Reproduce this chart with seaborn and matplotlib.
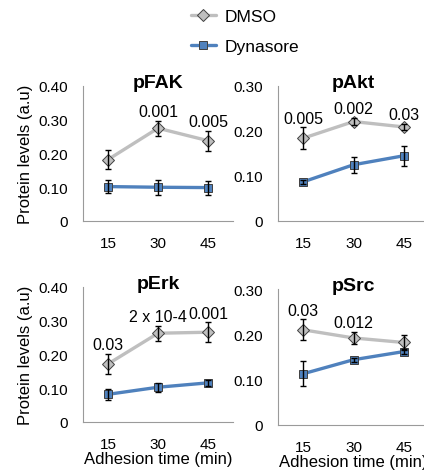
import numpy as np
import pandas as pd
import matplotlib
matplotlib.use("Agg")
import matplotlib.pyplot as plt
from matplotlib.lines import Line2D
import seaborn as sns

# ---- data ----
times = [15, 30, 45]
groups = ["DMSO", "Dynasore"]

panels = ["pFAK", "pAkt", "pErk", "pSrc"]
ymax = {"pFAK": 0.40, "pAkt": 0.30, "pErk": 0.40, "pSrc": 0.30}

dmso_mean = {
    "pFAK": [0.182, 0.275, 0.238],
    "pAkt": [0.184, 0.221, 0.209],
    "pErk": [0.172, 0.263, 0.266],
    "pSrc": [0.210, 0.192, 0.182],
}
dmso_err = {
    "pFAK": [0.029, 0.022, 0.030],
    "pAkt": [0.024, 0.008, 0.007],
    "pErk": [0.030, 0.022, 0.030],
    "pSrc": [0.023, 0.014, 0.017],
}
dyn_mean = {
    "pFAK": [0.102, 0.100, 0.099],
    "pAkt": [0.087, 0.125, 0.145],
    "pErk": [0.082, 0.103, 0.116],
    "pSrc": [0.113, 0.144, 0.162],
}
dyn_err = {
    "pFAK": [0.020, 0.022, 0.021],
    "pAkt": [0.005, 0.018, 0.022],
    "pErk": [0.016, 0.013, 0.009],
    "pSrc": [0.028, 0.004, 0.006],
}
# p-values written above DMSO points (None = no label)
pvals = {
    "pFAK": [None, "0.001", "0.005"],
    "pAkt": ["0.005", "0.002", "0.03"],
    "pErk": ["0.03", "2 x 10-4", "0.001"],
    "pSrc": ["0.03", "0.012", None],
}

# ---- style ----
sns.set_style("white")
plt.rcParams["font.family"] = ["Liberation Sans", "DejaVu Sans"]
plt.rcParams["font.size"] = 11
plt.rcParams["text.color"] = "black"
plt.rcParams["axes.labelcolor"] = "black"
plt.rcParams["xtick.color"] = "black"
plt.rcParams["ytick.color"] = "black"

colors = {"DMSO": "#BFBFBF", "Dynasore": "#4F81BD"}
markers = {"DMSO": "D", "Dynasore": "s"}
axis_grey = "#9A9A9A"

W, H = 424, 477
fig = plt.figure(figsize=(W / 100, H / 100), dpi=100)

# axes boxes in pixels: left, top(y of ymax), width, bottom(y of 0)
boxes = {
    "pFAK": (83, 87, 150, 222),
    "pAkt": (278, 87, 151, 222),
    "pErk": (83, 288, 150, 423),
    "pSrc": (278, 290, 151, 426),
}

for name in panels:
    l, t, w, b = boxes[name]
    ax = fig.add_axes([l / W, (H - b) / H, w / W, (b - t) / H])

    df = pd.DataFrame({
        "time": times * 2,
        "level": dmso_mean[name] + dyn_mean[name],
        "group": ["DMSO"] * 3 + ["Dynasore"] * 3,
    })
    sns.lineplot(data=df, x="time", y="level", hue="group", style="group",
                 hue_order=groups, palette=colors, markers=markers, dashes=False,
                 linewidth=2.4, markersize=6, markeredgecolor="#404040",
                 markeredgewidth=0.7, legend=False, ax=ax, zorder=3)
    ax.errorbar(times, dmso_mean[name], yerr=dmso_err[name], fmt="none",
                ecolor="black", elinewidth=1, capsize=2.5, capthick=1, zorder=4)
    ax.errorbar(times, dyn_mean[name], yerr=dyn_err[name], fmt="none",
                ecolor="black", elinewidth=1, capsize=2.5, capthick=1, zorder=4)

    for x, m, e, p in zip(times, dmso_mean[name], dmso_err[name], pvals[name]):
        if p:
            ax.annotate(p, (x, m + e), xytext=(0, 6.5), textcoords="offset points",
                        ha="center", va="center", fontsize=11.5)

    ax.set_xlim(7.5, 52.5)
    ax.set_ylim(0, ymax[name])
    ax.set_yticks(np.arange(0, ymax[name] + 0.001, 0.10))
    ax.set_yticklabels(["0" if v == 0 else f"{v:.2f}" for v in ax.get_yticks()])
    ax.set_xticks(times)
    ax.set_xticklabels([str(v) for v in times])
    ax.set_xticks([22.5, 37.5, 52.5], minor=True)
    ax.tick_params(axis="x", which="major", length=0, pad=10.5, labelsize=11)
    ax.tick_params(axis="x", which="minor", length=4, color=axis_grey, width=0.8)
    ax.tick_params(axis="y", length=4, color=axis_grey, width=0.8, pad=7, labelsize=11)

    for s in ["top", "right"]:
        ax.spines[s].set_visible(False)
    for s in ["left", "bottom"]:
        ax.spines[s].set_color(axis_grey)
        ax.spines[s].set_linewidth(0.8)
    ax.set_facecolor("none")
    ax.set_title(name, fontweight="bold", fontsize=14, pad=-1)

    ax.set_xlabel("Adhesion time (min)" if name in ("pErk", "pSrc") else "",
                  labelpad=0, fontsize=12)
    ax.set_ylabel("Protein levels (a.u)" if name in ("pFAK", "pErk") else "",
                  labelpad=4, fontsize=12)

handles = [
    Line2D([], [], color=colors["DMSO"], lw=2.4, marker="D", markersize=6,
           markeredgecolor="#404040", markeredgewidth=0.7, markerfacecolor="#BFBFBF"),
    Line2D([], [], color=colors["Dynasore"], lw=2.4, marker="s", markersize=6,
           markeredgecolor="#404040", markeredgewidth=0.7, markerfacecolor="#4F81BD"),
]
fig.legend(handles, groups, loc="upper left", bbox_to_anchor=(182 / W, 0.997),
           frameon=False, fontsize=12.5, handlelength=1.45, handletextpad=0.5,
           labelspacing=0.85, borderaxespad=0.1)

fig.savefig("out.png", dpi=100)
